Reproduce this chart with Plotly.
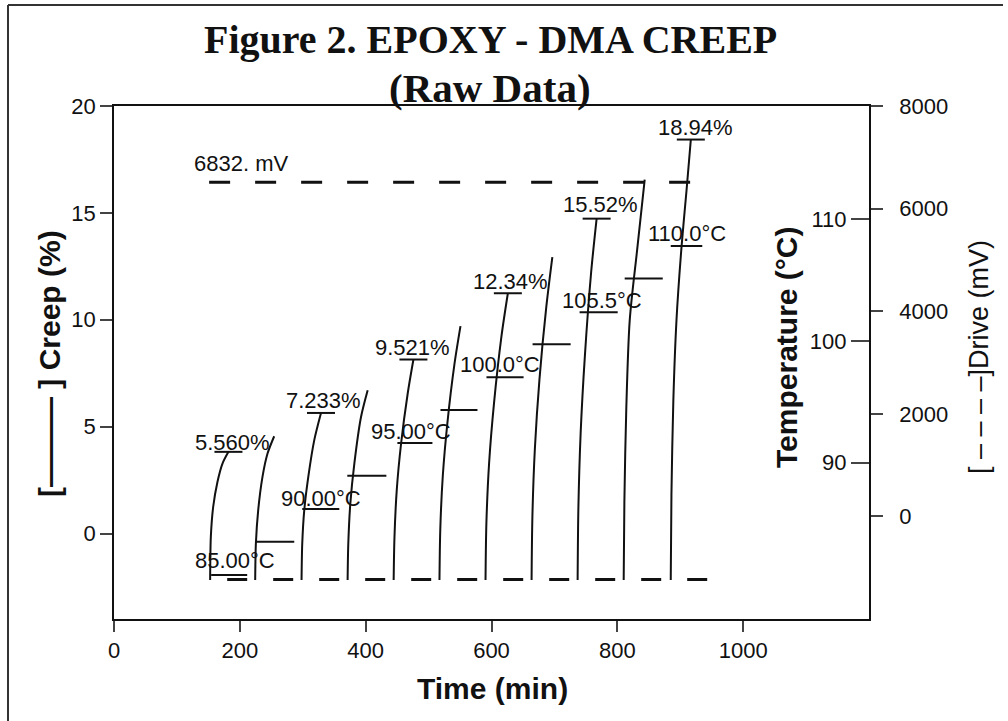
import plotly.graph_objects as go

# ---------------- data ----------------
# creep curves: time (min) and creep (%) per temperature step
creep_time = [
    [152.8, 153.9, 157.6, 164.4, 172.4, 181.9],
    [224.4, 225.5, 229.2, 236.0, 244.0, 254.6],
    [298.1, 299.2, 302.4, 308.8, 318.3, 329.0],
    [371.3, 372.4, 375.6, 382.0, 392.6, 403.2],
    [444.5, 445.8, 449.4, 456.3, 466.8, 475.9],
    [517.3, 518.6, 522.6, 530.0, 541.0, 550.7],
    [590.5, 591.9, 596.2, 604.0, 615.7, 626.0],
    [663.7, 665.0, 669.0, 676.2, 687.1, 696.7],
    [736.9, 738.1, 741.7, 748.4, 758.3, 767.1],
    [810.1, 811.2, 814.2, 819.7, 831.6, 843.5],
    [884.9, 886.0, 889.0, 894.0, 902.0, 910.0, 916.8],
]
creep_pct = [
    [-2.18, -0.16, 1.24, 2.41, 3.27, 3.82],
    [-2.18, -0.47, 1.09, 2.65, 3.74, 4.55],
    [-2.18, -0.47, 1.09, 2.65, 4.37, 5.64],
    [-2.18, -0.47, 1.40, 3.27, 5.45, 6.70],
    [-2.18, -0.16, 2.03, 4.21, 6.55, 8.14],
    [-2.18, 0.20, 2.70, 5.20, 7.90, 9.70],
    [-2.18, 0.50, 3.30, 6.10, 9.20, 11.24],
    [-2.18, 0.80, 4.00, 7.20, 10.60, 12.93],
    [-2.18, 1.20, 4.70, 8.30, 12.20, 14.73],
    [-2.18, 1.50, 5.80, 9.98, 13.30, 16.56],
    [-2.18, 1.80, 6.20, 9.98, 13.40, 16.06, 18.43],
]
labeled_curves = [0, 2, 4, 6, 8, 10]
creep_labels = ["5.560%", "7.233%", "9.521%", "12.34%", "15.52%", "18.94%"]
creep_label_t = [187.8, 332.6, 474.3, 630.3, 773.5, 924.7]
creep_label_c = [4.27, 6.24, 8.71, 11.80, 15.40, 19.01]

# temperature steps (°C) with their time spans
temp_start = [154.4, 226.0, 299.2, 370.8, 450.4, 518.9, 592.0, 665.3, 740.0, 811.7, 884.9]
temp_end = [211.7, 286.5, 358.1, 432.9, 506.1, 577.7, 651.0, 725.8, 800.6, 872.2, 935.0]
temp_val = [80.78, 83.52, 86.20, 88.93, 91.62, 94.33, 97.03, 99.74, 102.37, 105.13, 107.81]
temp_labels = ["85.00°C", "90.00°C", "95.00°C", "100.0°C", "105.5°C", "110.0°C"]
temp_label_t = [192.6, 329.5, 472.7, 612.8, 775.1, 911.2]
temp_label_c = [-1.25, 1.65, 4.78, 7.92, 10.92, 14.05]

# drive signal (mV)
drive_hi_time = [151.2, 920.0]
drive_hi_val = [6515, 6515]
drive_lo_time = [179.9, 943.8]
drive_lo_val = [-1232, -1232]
drive_label = "6832. mV"
drive_label_t, drive_label_c = 201.3, 17.32

x_ticks = [0, 200, 400, 600, 800, 1000]
creep_ticks = [0, 5, 10, 15, 20]
drive_ticks = [0, 2000, 4000, 6000, 8000]
temp_ticks = [90, 100, 110]

# ---------------- figure ----------------
W, H = 1008, 721
L, R, T, B = 114, 869, 106, 619
SANS = "Arial, Liberation Sans, sans-serif"
SERIF = "Times New Roman, Liberation Serif, serif"
BLACK = "#111111"


def px(x):
    return (x - L) / (R - L)


def py(y):
    return (B - y) / (B - T)


fig = go.Figure()

for ts, cs in zip(creep_time, creep_pct):
    fig.add_trace(go.Scatter(x=ts, y=cs, mode="lines",
                             line=dict(color=BLACK, width=2, shape="spline", smoothing=0.8),
                             hoverinfo="skip", showlegend=False))

# end-of-step markers on labelled curves
fig.add_trace(go.Scatter(
    x=[creep_time[i][-1] for i in labeled_curves],
    y=[creep_pct[i][-1] for i in labeled_curves],
    mode="markers",
    marker=dict(symbol="line-ew", size=20, line=dict(color=BLACK, width=2)),
    hoverinfo="skip", showlegend=False))

# temperature segments
tx, ty = [], []
for s, e, v in zip(temp_start, temp_end, temp_val):
    tx += [s, e, None]
    ty += [v, v, None]
fig.add_trace(go.Scatter(x=tx, y=ty, yaxis="y3", mode="lines",
                         line=dict(color=BLACK, width=2),
                         hoverinfo="skip", showlegend=False))

# drive lines
fig.add_trace(go.Scatter(x=drive_hi_time, y=drive_hi_val, yaxis="y2", mode="lines",
                         line=dict(color=BLACK, width=3, dash="21px,25px"),
                         hoverinfo="skip", showlegend=False))
fig.add_trace(go.Scatter(x=drive_lo_time, y=drive_lo_val, yaxis="y2", mode="lines",
                         line=dict(color=BLACK, width=3, dash="20px,26px"),
                         hoverinfo="skip", showlegend=False))

ann = []
for txt, t, c in zip(creep_labels, creep_label_t, creep_label_c):
    ann.append(dict(text=txt, x=t, y=c, xref="x", yref="y", showarrow=False,
                    xanchor="center", yanchor="middle",
                    font=dict(family=SANS, size=22, color=BLACK)))
for txt, t, c in zip(temp_labels, temp_label_t, temp_label_c):
    ann.append(dict(text=txt, x=t, y=c, xref="x", yref="y", showarrow=False,
                    xanchor="center", yanchor="middle",
                    font=dict(family=SANS, size=22, color=BLACK)))
ann.append(dict(text=drive_label, x=drive_label_t, y=drive_label_c, xref="x", yref="y",
                showarrow=False, xanchor="center", yanchor="middle",
                font=dict(family=SANS, size=22, color=BLACK)))


def title_ann(text, x, y, font, angle=0):
    return dict(text=text, x=px(x), y=py(y), xref="paper", yref="paper", showarrow=False,
                xanchor="center", yanchor="middle", textangle=angle, font=font)


ann += [
    title_ann("<b>Figure 2. EPOXY - DMA CREEP</b>", 490, 40, dict(family=SERIF, size=40, color=BLACK)),
    title_ann("<b>(Raw Data)</b>", 490, 88, dict(family=SERIF, size=41, color=BLACK)),
    title_ann("<b>Time (min)</b>", 492, 688, dict(family=SANS, size=30, color=BLACK)),
    title_ann("<b>[——— ] Creep (%)</b>", 49, 364, dict(family=SANS, size=30, color=BLACK), -90),
    title_ann("<b>Temperature (°C)</b>", 786, 348, dict(family=SANS, size=30, color=BLACK), -90),
    title_ann("[ – – – –]Drive (mV)", 979, 357,
              dict(family="Liberation Sans Narrow, Arial Narrow, sans-serif", size=27, color=BLACK), -90),
]

shapes = [
    dict(type="line", xref="paper", yref="paper", x0=px(8), x1=px(1003), y0=py(5), y1=py(5),
         line=dict(color="#333", width=2)),
    dict(type="line", xref="paper", yref="paper", x0=px(8), x1=px(8), y0=py(5), y1=py(725),
         line=dict(color="#333", width=2)),
]

axis_common = dict(showgrid=False, zeroline=False, showline=True, linecolor=BLACK, linewidth=1.5,
                   tickcolor="#444", tickwidth=1.5,
                   tickfont=dict(family=SANS, size=22, color=BLACK))

fig.update_layout(
    width=W, height=H,
    margin=dict(l=L, r=W - R, t=T, b=H - B, autoexpand=False),
    paper_bgcolor="white", plot_bgcolor="white",
    showlegend=False,
    xaxis=dict(range=[0, 1200], tickvals=x_ticks, ticks="outside", ticklen=11, mirror=True,
               **axis_common),
    yaxis=dict(range=[-4, 20], tickvals=creep_ticks, ticks="outside", ticklen=12, **axis_common),
    yaxis2=dict(range=[-2000, 8000], tickvals=drive_ticks,
                ticktext=["\u00a0\u00a0" + str(v) for v in drive_ticks],
                ticks="outside", ticklen=12,
                overlaying="y", side="right", **axis_common),
    yaxis3=dict(range=[77.17, 119.3], tickvals=temp_ticks,
                ticktext=[str(v) + "\u00a0" for v in temp_ticks],
                ticks="inside", ticklen=18,
                overlaying="y", side="right", ticklabelposition="inside", **axis_common),
    annotations=ann,
    shapes=shapes,
)

fig.write_html("out.html")
